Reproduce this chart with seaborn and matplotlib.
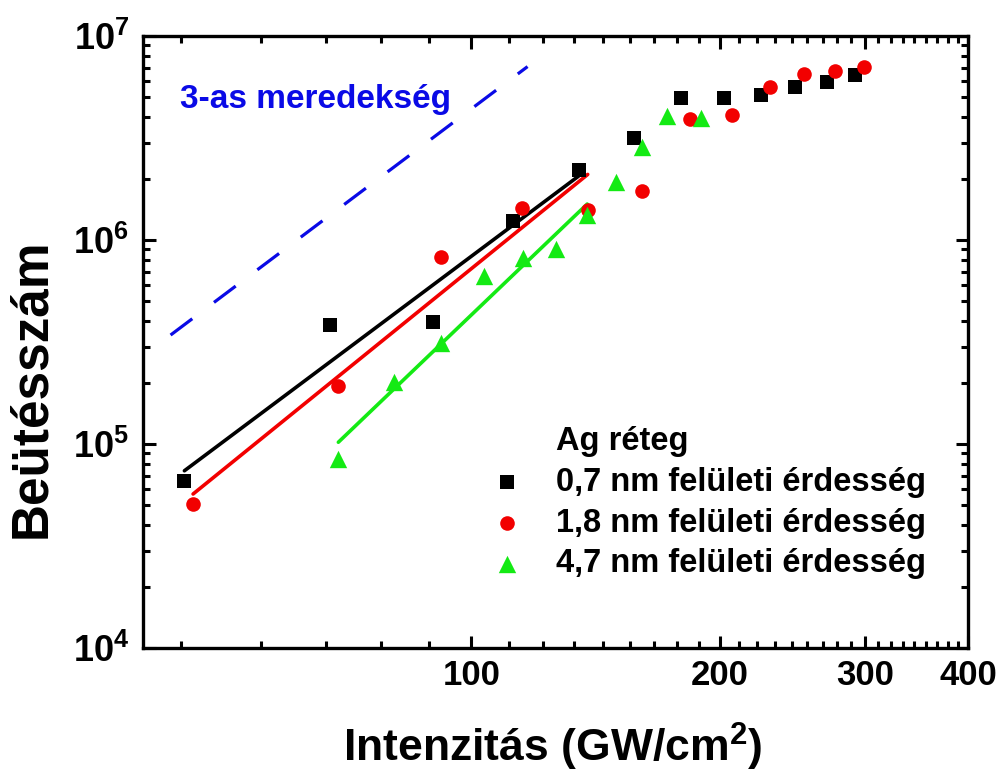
import numpy as np
import pandas as pd
import matplotlib
matplotlib.use('Agg')
import matplotlib.pyplot as plt
from matplotlib.lines import Line2D
from matplotlib.ticker import FixedLocator, NullFormatter
import seaborn as sns

# adatok (leolvasva az abrarol)
x_07 = [44.9, 67.4, 89.8, 112.2, 134.9, 157.3, 179.7, 202.2, 224.7, 247.1, 269.5, 292.2]
y_07 = [6.58e4, 3.83e5, 3.95e5, 1.24e6, 2.2e6, 3.16e6, 4.96e6, 4.96e6, 5.11e6, 5.63e6, 5.95e6, 6.45e6]

x_18 = [46.0, 69.0, 92.0, 115.2, 138.4, 161.1, 183.9, 207.0, 230.4, 253.1, 276.3, 299.0]
y_18 = [5.06e4, 1.92e5, 8.26e5, 1.43e6, 1.41e6, 1.73e6, 3.92e6, 4.08e6, 5.65e6, 6.52e6, 6.77e6, 7.08e6]

x_47 = [69.0, 80.6, 92.0, 103.5, 115.4, 126.5, 138.2, 149.6, 161.1, 172.8, 190.0]
y_47 = [8.4e4, 2.01e5, 3.12e5, 6.67e5, 8.2e5, 9.08e5, 1.32e6, 1.93e6, 2.85e6, 4.04e6, 3.96e6]

# hany pontra illesztunk egyenest
n_fit = {'0,7': 5, '1,8': 5, '4,7': 7}

# 3-as meredekseg segedvonal
slope_x = [43.2, 117.0]
slope_y = [3.42e5, 7.08e6]

labels = ['0,7 nm felületi érdesség', '1,8 nm felületi érdesség', '4,7 nm felületi érdesség']
colors = ['#000000', '#f20000', '#14ea14']
markers = ['s', 'o', '^']
sizes = [9.5, 10.5, 12.5]

x_ticks = [100, 200, 300, 400]
y_ticks = [1e4, 1e5, 1e6, 1e7]
y_ticklabels = [r'$\mathbf{10^{4}}$', r'$\mathbf{10^{5}}$', r'$\mathbf{10^{6}}$', r'$\mathbf{10^{7}}$']

sns.set_style('ticks')
plt.rcParams['font.family'] = ['Liberation Sans', 'DejaVu Sans']
plt.rcParams['font.weight'] = 'bold'
plt.rcParams['mathtext.fontset'] = 'custom'
plt.rcParams['mathtext.rm'] = 'Liberation Sans:bold'
plt.rcParams['mathtext.bf'] = 'Liberation Sans:bold'
plt.rcParams['mathtext.it'] = 'Liberation Sans:bold'
# seaborn szurke szovegszinet fekete
for k in ['text.color', 'axes.labelcolor', 'xtick.color', 'ytick.color', 'axes.edgecolor']:
    plt.rcParams[k] = 'black'

fig = plt.figure(figsize=(10.03, 7.8), dpi=100)
ax = fig.add_axes([143 / 1003, 1 - 648 / 780, 825 / 1003, 612 / 780])

series = [(x_07, y_07, '0,7'), (x_18, y_18, '1,8'), (x_47, y_47, '4,7')]

# illesztett egyenesek (log-log)
for (xs, ys, key), c in zip(series, colors):
    n = n_fit[key]
    lx = np.log10(xs[:n])
    ly = np.log10(ys[:n])
    p = np.polyfit(lx, ly, 1)
    xf = np.array([xs[0], xs[n - 1]])
    yf = 10 ** np.polyval(p, np.log10(xf))
    sns.lineplot(x=xf, y=yf, color=c, linewidth=2.6, ax=ax, legend=False)

# meresi pontok
for (xs, ys, key), c, m, s, lab in zip(series, colors, markers, sizes, labels):
    df = pd.DataFrame({'x': xs, 'y': ys})
    sns.scatterplot(data=df, x='x', y='y', color=c, marker=m, s=s ** 2,
                    linewidth=0, ax=ax, label=lab, zorder=3)

sns.lineplot(x=slope_x, y=slope_y, color='#0a0ae6', linewidth=2.3,
             linestyle=(0, (8.5, 8.5)), ax=ax, legend=False)

ax.set_xscale('log')
ax.set_yscale('log')
ax.set_xlim(40, 400)
ax.set_ylim(1e4, 1e7)

ax.xaxis.set_major_locator(FixedLocator(x_ticks))
ax.set_xticklabels([str(t) for t in x_ticks])
minor_x = [v for v in np.arange(100 - 5 * 100 / 9, 400.1, 100 / 9) if min(abs(v - t) for t in x_ticks) > 1]
ax.xaxis.set_minor_locator(FixedLocator(minor_x))
ax.xaxis.set_minor_formatter(NullFormatter())
ax.set_yticks(y_ticks)
ax.set_yticklabels(y_ticklabels)
ax.yaxis.set_minor_formatter(NullFormatter())

ax.tick_params(which='both', direction='in', top=True, right=True, width=2.2, color='black',
               labelcolor='black')
ax.tick_params(which='major', length=9)
ax.tick_params(which='minor', length=5)
ax.tick_params(axis='x', which='major', labelsize=25, pad=8)
ax.tick_params(axis='y', which='major', labelsize=26, pad=10)
for sp in ax.spines.values():
    sp.set_visible(True)
    sp.set_linewidth(2.4)
    sp.set_color('black')

ax.set_xlabel('')
ax.set_ylabel('')
fig.text(553 / 1003, 1 - 762 / 780, 'Intenzitás (GW/cm$^\\mathbf{2}$)', ha='center', va='baseline',
         fontsize=32, fontweight='bold', color='black')
fig.text(32 / 1003, 1 - 388 / 780, 'Beütésszám', ha='center', va='center', rotation=90,
         fontsize=37, fontweight='bold', color='black')

ax.text((180 - 143) / 825, (648 - 108) / 612, '3-as meredekség', transform=ax.transAxes,
        color='#0a0ae6', fontsize=24, fontweight='bold', va='baseline', ha='left')

# legenda: a cim egy ures jelu sor
handles, labs = ax.get_legend_handles_labels()
blank = Line2D([], [], linestyle='none', marker=None)
leg = ax.legend([blank] + handles, ['Ag réteg'] + labs, loc='upper left',
                bbox_to_anchor=((491 - 143) / 825, (648 - 426) / 612), frameon=False,
                fontsize=23.5, handlelength=1.0, handletextpad=1.0, labelspacing=0.3,
                borderpad=0, borderaxespad=0, markerscale=1)
for t in leg.get_texts():
    t.set_color('black')

fig.savefig('out.png', dpi=100)
plt.close()
